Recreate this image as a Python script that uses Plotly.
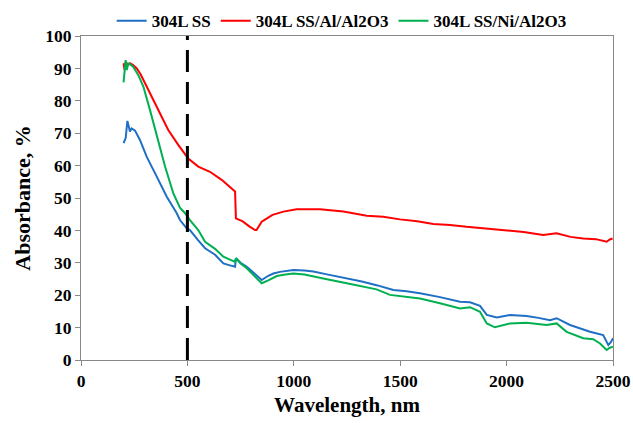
import plotly.graph_objects as go

# ---- data ----
wl_ss = [200, 205, 210, 218, 224, 230, 238, 254, 277, 309, 356, 403, 450, 465, 497, 512, 550, 583, 630, 669, 700, 724,
         728, 750, 779, 820, 849, 880, 904, 935, 982, 998, 1050, 1092, 1150, 1249, 1320, 1389, 1468, 1530, 1593, 1687,
         1781, 1828, 1875, 1907, 1954, 2016, 2094, 2150, 2204, 2235, 2298, 2392, 2454, 2478, 2490, 2500]
abs_ss = [66.9, 68.0, 68.5, 73.8, 72.0, 70.5, 71.5, 70.8, 67.9, 62.7, 56.6, 50.4, 45.3, 43.2, 40.6, 40.1, 37.0, 34.5, 32.5, 29.8, 29.2, 28.8,
          31.4, 30.0, 28.8, 26.5, 24.7, 26.0, 26.7, 27.2, 27.8, 27.8, 27.6, 27.3, 26.5, 25.2, 24.2, 23.1, 21.6, 21.2, 20.6, 19.4,
          18.0, 17.8, 16.7, 13.9, 13.1, 13.9, 13.6, 13.0, 12.3, 12.9, 10.8, 8.7, 7.7, 4.6, 5.5, 6.7]

wl_al = [200, 205, 210, 220, 230, 245, 262, 280, 301, 332, 371, 410, 457, 504, 551, 606, 661, 700, 719,
         724, 728, 760, 794, 818, 825, 849, 857, 900, 951, 1013, 1123, 1233, 1343, 1420, 1499, 1580, 1656,
         1734, 1812, 1880, 1969, 2000, 2080, 2172, 2235, 2300, 2360, 2420, 2470, 2485, 2498]
abs_al = [91.6, 89.5, 92.0, 91.0, 91.6, 91.0, 90.0, 88.2, 85.4, 81.3, 76.1, 71.0, 66.4, 62.2, 59.7, 58.1, 55.6, 53.5, 52.5,
          52.0, 43.7, 42.8, 41.1, 40.1, 40.1, 42.7, 43.0, 44.8, 45.8, 46.5, 46.5, 45.8, 44.5, 44.2, 43.4, 42.8, 42.0,
          41.7, 41.1, 40.7, 40.3, 40.1, 39.5, 38.6, 39.1, 38.0, 37.5, 37.3, 36.5, 37.2, 37.5]

wl_ni = [200, 205, 210, 215, 222, 230, 245, 269, 293, 324, 356, 395, 434, 465, 489, 512, 551, 583, 630, 669, 700, 724,
         728, 750, 779, 820, 849, 880, 920, 960, 998, 1050, 1092, 1150, 1249, 1320, 1389, 1452, 1520, 1593, 1687,
         1781, 1828, 1875, 1907, 1945, 2016, 2094, 2188, 2235, 2282, 2360, 2407, 2439, 2470, 2485, 2500]
abs_ni = [85.7, 90.0, 92.6, 89.5, 91.5, 91.3, 90.5, 88.0, 84.4, 77.2, 68.9, 59.7, 51.4, 47.0, 45.3, 43.2, 40.1, 36.5, 34.3, 31.9, 31.0, 30.3,
          31.4, 29.8, 28.3, 25.5, 23.7, 24.6, 25.9, 26.4, 26.7, 26.4, 25.9, 25.0, 23.7, 22.8, 21.8, 20.1, 19.6, 19.0, 17.5,
          15.9, 16.3, 14.9, 11.3, 10.1, 11.3, 11.5, 10.8, 11.3, 8.7, 6.7, 6.4, 5.1, 3.1, 3.8, 4.1]

series_names = ["304L SS", "304L SS/Al/Al2O3", "304L SS/Ni/Al2O3"]
marker_wavelength = 500
x_ticks = [0, 500, 1000, 1500, 2000, 2500]
y_ticks = [0, 10, 20, 30, 40, 50, 60, 70, 80, 90, 100]

colors = ["#1F6FC5", "#FF0000", "#00B050"]
FONT = "Liberation Serif, Times New Roman, serif"

fig = go.Figure()
for name, xs, ys, c in zip(series_names, [wl_ss, wl_al, wl_ni], [abs_ss, abs_al, abs_ni], colors):
    fig.add_trace(go.Scatter(x=xs, y=ys, mode="lines", name=name,
                             line=dict(color=c, width=2)))

fig.add_shape(type="line", xref="x", yref="paper", x0=marker_wavelength, x1=marker_wavelength,
              y0=0, y1=1, line=dict(color="black", width=3, dash="22px,10px"), layer="above")

axis_common = dict(showgrid=False, zeroline=False, showline=True, linecolor="#888888", linewidth=1,
                   mirror=True, ticks="outside", ticklen=5, tickcolor="#888888", automargin=False,
                   ticklabeloverflow="allow",
                   tickfont=dict(family=FONT, size=17.5, color="black", weight="bold"))

fig.update_layout(
    width=633, height=423,
    margin=dict(l=81, r=20, t=36, b=63, autoexpand=False),
    paper_bgcolor="white", plot_bgcolor="white",
    font=dict(family=FONT, color="black"),
    showlegend=True,
    legend=dict(orientation="h", x=0.49, xanchor="center", y=0.99, yanchor="bottom",
                font=dict(family=FONT, size=17, color="black", weight="bold"),
                itemwidth=30, tracegroupgap=0, bgcolor="rgba(0,0,0,0)"),
    xaxis=dict(range=[0, 2500], tickvals=x_ticks, ticktext=[str(v) for v in x_ticks],
               title=dict(text="Wavelength, nm", font=dict(family=FONT, size=21, weight="bold"), standoff=7),
               **axis_common),
    yaxis=dict(range=[0, 100], tickvals=y_ticks, ticktext=[str(v) for v in y_ticks],
               title=dict(text="Absorbance, %", font=dict(family=FONT, size=22, weight="bold"), standoff=8),
               **axis_common),
)

# remove the default page margin so the figure fills the window exactly
fig.write_html("out.html", config={"displayModeBar": False},
               post_script="document.body.style.margin='0';document.documentElement.style.overflow='hidden';")
